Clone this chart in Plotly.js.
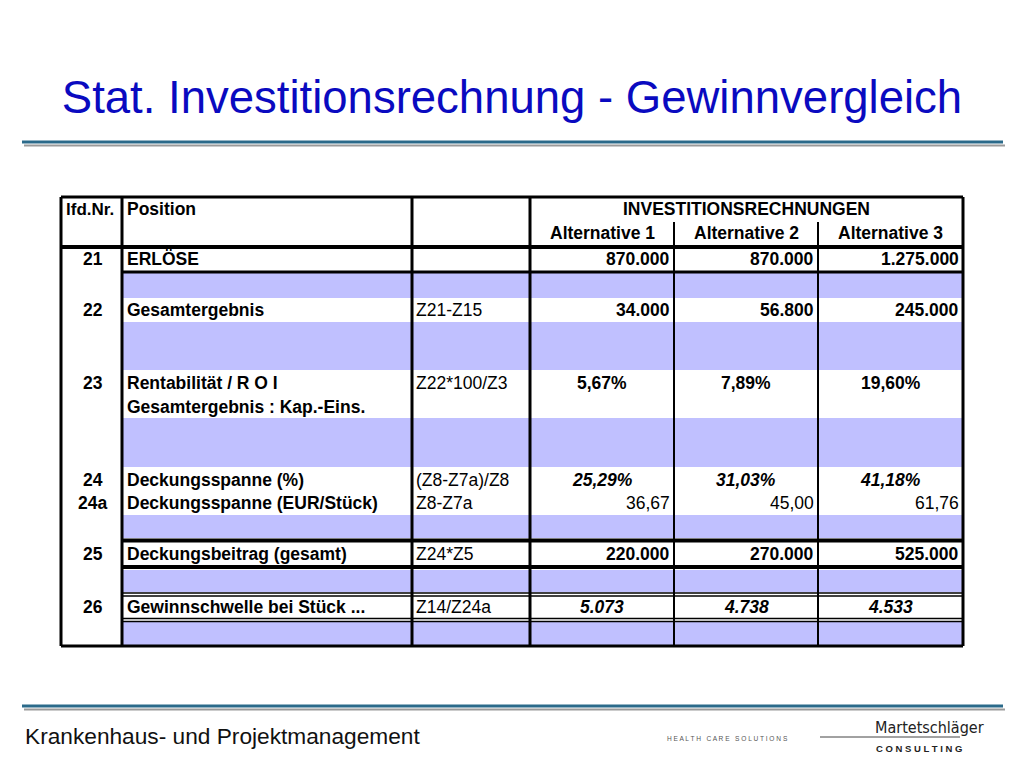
<!DOCTYPE html>
<html>
<head>
<meta charset="utf-8">
<script src="https://cdn.plot.ly/plotly-3.0.1.min.js"></script>
<style>html,body{margin:0;padding:0;background:#fff;}#chart{width:1024px;height:768px;}</style>
</head>
<body>
<div id="chart"></div>
<script>
// ---- data ----
const titleText = 'Stat. Investitionsrechnung - Gewinnvergleich';
const headerGroup = 'INVESTITIONSRECHNUNGEN';
const altLabels = ['Alternative 1', 'Alternative 2', 'Alternative 3'];
const lfdNr = ['21', '22', '23', '', '24', '24a', '25', '26'];
const positions = ['ERLÖSE', 'Gesamtergebnis', 'Rentabilität / R O I', 'Gesamtergebnis : Kap.-Eins.',
  'Deckungsspanne (%)', 'Deckungsspanne (EUR/Stück)', 'Deckungsbeitrag (gesamt)', 'Gewinnschwelle bei Stück ...'];
const formulas = ['', 'Z21-Z15', 'Z22*100/Z3', '', '(Z8-Z7a)/Z8', 'Z8-Z7a', 'Z24*Z5', 'Z14/Z24a'];
const alt1 = ['870.000', '34.000', '5,67%', '', '25,29%', '36,67', '220.000', '5.073'];
const alt2 = ['870.000', '56.800', '7,89%', '', '31,03%', '45,00', '270.000', '4.738'];
const alt3 = ['1.275.000', '245.000', '19,60%', '', '41,18%', '61,76', '525.000', '4.533'];
const footerText = 'Krankenhaus- und Projektmanagement';

// ---- layout geometry (pixels on a 1024x768 canvas axis) ----
const colX = [61, 122, 412, 530, 674, 818, 963];
const tTop = 197, tBot = 646, hdrBot = 247;
const rowY = [259, 310, 383, 407, 480, 503, 554, 607];
// style per row: [align of alt cells, bold, italic]
const rowStyle = [
  ['right', true, false], ['right', true, false], ['center', true, false], ['center', true, false],
  ['center', true, true], ['right', false, false], ['right', true, false], ['center', true, true]
];
const bands = [[273, 298], [322, 370], [418, 467], [515, 538], [570, 592], [622, 645]];
const BLUE = 'rgb(192,192,255)';
const FONT = 'Liberation Sans, Arial, Helvetica, sans-serif';
const FS = 17.5;

const shapes = [];
const ann = [];
function rect(x0, y0, x1, y1, color) {
  shapes.push({type: 'rect', xref: 'x', yref: 'y', x0, y0, x1, y1, fillcolor: color, line: {width: 0}, layer: 'below'});
}
function line(x0, y0, x1, y1, w, color) {
  shapes.push({type: 'line', xref: 'x', yref: 'y', x0, y0, x1, y1, line: {width: w, color: color || '#000'}});
}
function text(t, x, y, opt) {
  opt = opt || {};
  let s = t;
  if (opt.italic) s = '<i>' + s + '</i>';
  if (opt.bold) s = '<b>' + s + '</b>';
  ann.push({xref: 'x', yref: 'y', x, y, text: s, showarrow: false,
    xanchor: opt.xanchor || 'left', yanchor: 'middle',
    font: {family: opt.family || FONT, size: opt.size || FS, color: opt.color || '#000'}});
}

// blue bands (not in lfd.Nr. column)
bands.forEach(b => rect(colX[1], b[0], colX[6], b[1], BLUE));

// header lines
line(22, 142, 1003, 142, 3, '#2b6a8a');
line(24, 145.5, 1005, 145.5, 2, '#9a9a9a');
line(22, 706, 1003, 706, 3, '#2b6a8a');
line(24, 709.5, 1005, 709.5, 2, '#9a9a9a');

// table grid
line(colX[0], tTop, colX[6], tTop, 3);
line(colX[0], hdrBot, colX[6], hdrBot, 4);
line(colX[0], tBot, colX[6], tBot, 3);
line(colX[1], 272, colX[6], 272, 3);
line(colX[1], 540.5, colX[6], 540.5, 4);
line(colX[1], 567, colX[6], 567, 4);
[593, 596, 618.5, 621.5].forEach(y => line(colX[1], y, colX[6], y, 1.5));
[0, 1, 2, 3, 6].forEach(i => line(colX[i], tTop, colX[i], tBot, 3));
[4, 5].forEach(i => line(colX[i], 222, colX[i], tBot, 2));

// header text
text('lfd.Nr.', 64, 209, {bold: true, size: 17});
text('Position', 125, 209, {bold: true});
text(headerGroup, (colX[3] + colX[6]) / 2, 209, {bold: true, xanchor: 'center'});
altLabels.forEach((l, i) => text(l, (colX[3 + i] + colX[4 + i]) / 2, 233, {bold: true, xanchor: 'center'}));

// body
rowY.forEach((y, r) => {
  if (lfdNr[r]) text(lfdNr[r], (colX[0] + colX[1]) / 2 + 1, y, {bold: true, xanchor: 'center'});
  text(positions[r], 125, y, {bold: true});
  if (formulas[r]) text(formulas[r], 414, y, {});
  const st = rowStyle[r];
  [alt1, alt2, alt3].forEach((arr, c) => {
    if (!arr[r]) return;
    const x = st[0] === 'right' ? colX[4 + c] - 2 : (colX[3 + c] + colX[4 + c]) / 2;
    text(arr[r], x, y, {bold: st[1], italic: st[2], xanchor: st[0] === 'right' ? 'right' : 'center'});
  });
});

// footer
text(footerText, 23, 736, {size: 22.7, color: '#111'});
text('H E A L T H   C A R E   S O L U T I O N S', 665, 738, {size: 6.6, color: '#555'});
line(820, 737, 960, 737, 1, '#444');
text('Martetschläger', 873, 727, {size: 16, color: '#222', family: 'DejaVu Sans Condensed, Liberation Sans Narrow, sans-serif'});
text('<b>C O N S U L T I N G</b>', 874, 748, {size: 9.5, color: '#222'});

const layout = {
  width: 1024, height: 768,
  margin: {l: 0, r: 0, t: 0, b: 0},
  paper_bgcolor: '#fff', plot_bgcolor: '#fff',
  showlegend: false,
  title: {text: titleText, x: 0.5, xanchor: 'center', xref: 'paper', yref: 'container', y: 1 - 97 / 768, yanchor: 'middle',
    font: {family: FONT, size: 45.5, color: '#0a0ac0'}},
  xaxis: {range: [0, 1024], visible: false, fixedrange: true},
  yaxis: {range: [768, 0], visible: false, fixedrange: true},
  shapes: shapes,
  annotations: ann
};
Plotly.newPlot('chart', [{x: [0], y: [0], mode: 'markers', marker: {opacity: 0}, hoverinfo: 'skip'}], layout, {displayModeBar: false, staticPlot: true});
</script>
</body>
</html>
